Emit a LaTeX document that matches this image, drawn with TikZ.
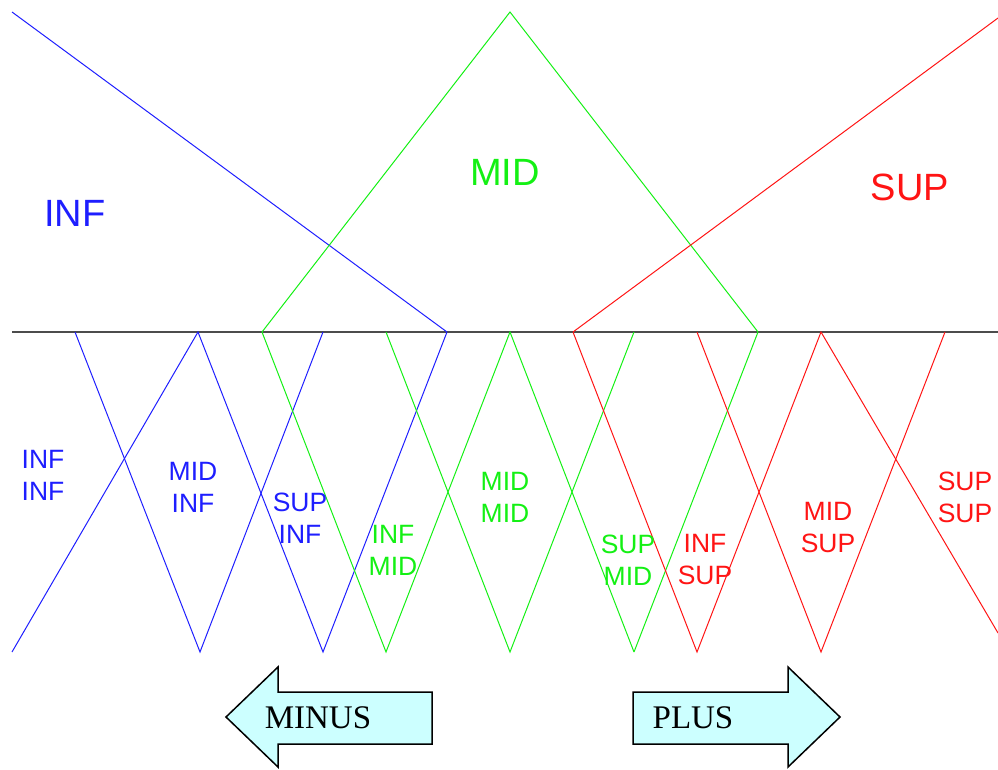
\documentclass[tikz,border=0pt]{standalone}
\usepackage{fontspec}
\setmainfont{Liberation Serif}
\setsansfont{Liberation Sans}
\definecolor{fblue}{RGB}{30,30,255}
\definecolor{fgreen}{RGB}{20,240,20}
\definecolor{fred}{RGB}{255,20,20}
\definecolor{afill}{RGB}{204,255,255}
\begin{document}
\begin{tikzpicture}[x=1pt,y=-1pt,
  mf/.style={line width=1pt},
  big/.style={font=\sffamily\fontsize{38}{40}\selectfont},
  small/.style={font=\sffamily\fontsize{26.5}{32}\selectfont,align=center},
  arrowshape/.style={draw=black,fill=afill,line width=1.5pt,line join=miter},
  arrowtext/.style={font=\rmfamily\fontsize{33}{36}\selectfont}]
\useasboundingbox (0,0) rectangle (998,769);
% axis
\draw[line width=1.2pt,black!70] (12,332) -- (998,332);
% upper membership functions
\draw[mf,fblue] (12,12) -- (447,332);
\draw[mf,fgreen] (262,332) -- (510,12) -- (758,332);
\draw[mf,fred] (573,332) -- (998,18);
% lower blue
\draw[mf,fblue] (12,652) -- (198,332) -- (323,652) -- (447,332);
\draw[mf,fblue] (75,332) -- (200,652) -- (323,332);
% lower green
\draw[mf,fgreen] (262,332) -- (386,652) -- (510,332) -- (634,652);
\draw[mf,fgreen] (386,332) -- (510,652) -- (634,332);
\draw[mf,fgreen] (634,652) -- (758,332);
% lower red
\draw[mf,fred] (573,332) -- (697,652) -- (821,332) -- (998,633);
\draw[mf,fred] (697,332) -- (821,652) -- (945,332);
% big labels
\node[big,fblue] (linf) at (75,213) {INF};
\node[big,fgreen] (lmid) at (505,172) {MID};
\node[big,fred] (lsup) at (910,187) {SUP};
% small labels
\node[small,fblue] (ii) at (43,475) {INF\\INF};
\node[small,fblue] (mi) at (193,487) {MID\\INF};
\node[small,fblue] (si) at (300,518) {SUP\\INF};
\node[small,fgreen] (im) at (393,550) {INF\\MID};
\node[small,fgreen] (mm) at (505,497) {MID\\MID};
\node[small,fgreen] (sm) at (628,560) {SUP\\MID};
\node[small,fred] (is) at (705,560) {INF\\SUP};
\node[small,fred] (ms) at (828,528) {MID\\SUP};
\node[small,fred] (ss) at (965,497) {SUP\\SUP};
% arrows
\draw[arrowshape] (226,717) -- (278,667) -- (278,692) -- (432,692) -- (432,744) -- (278,744) -- (278,767) -- cycle;
\draw[arrowshape] (840,717) -- (788,667) -- (788,692) -- (633,692) -- (633,744) -- (788,744) -- (788,767) -- cycle;
\node[arrowtext] (minus) at (318,718) {MINUS};
\node[arrowtext] (plus) at (693,718) {PLUS};
\end{tikzpicture}
\end{document}
